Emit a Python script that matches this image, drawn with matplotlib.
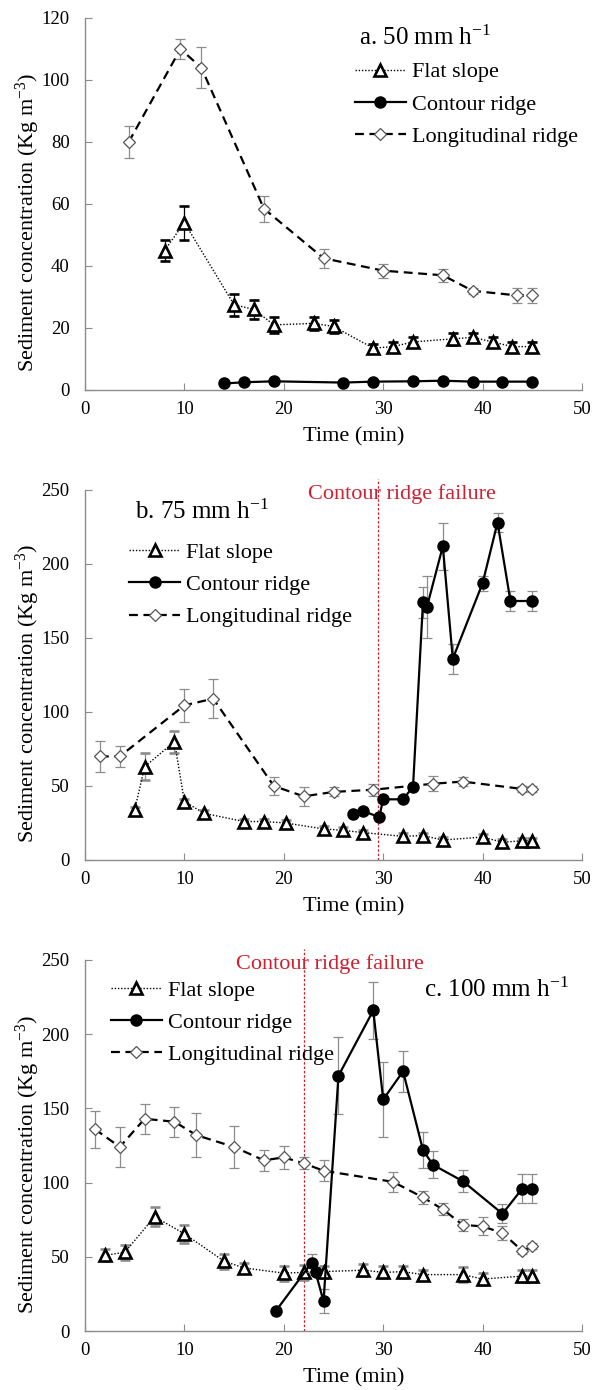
import matplotlib
matplotlib.use("Agg")
import matplotlib.pyplot as plt
from matplotlib.lines import Line2D

plt.rcParams['font.family'] = ['Liberation Serif', 'DejaVu Serif']
plt.rcParams['mathtext.fontset'] = 'custom'
plt.rcParams['mathtext.rm'] = 'Liberation Serif'
plt.rcParams['mathtext.it'] = 'Liberation Serif:italic'

# ---------------- data ----------------
# Panel a: 50 mm/h
a_flat_t = [8, 10, 15, 17, 19, 23, 25, 29, 31, 33, 37, 39, 41, 43, 45]
a_flat_v = [45, 54, 27.5, 26, 21, 21.5, 20.5, 13.5, 14, 15.5, 16.5, 17, 15.5, 14, 14]
a_flat_e = [3.5, 5.5, 3.5, 3, 2.5, 2, 2, 1.5, 1.5, 1.5, 2, 1.5, 1.5, 1.5, 1.5]
a_long_t = [4.4, 9.6, 11.7, 18, 24, 30, 36, 39, 43.5, 45]
a_long_v = [80, 110, 104, 58.5, 42.5, 38.5, 37, 32, 30.5, 30.5]
a_long_e = [5.2, 3.3, 6.7, 4.2, 3, 2.3, 2, 1, 2.5, 2.5]
a_cont_t = [14, 16, 19, 26, 29, 33, 36, 39, 42, 45]
a_cont_v = [2.1, 2.5, 2.8, 2.4, 2.7, 2.8, 3.0, 2.7, 2.7, 2.7]
a_cont_e = [0, 0, 0, 0, 0, 0, 0, 0, 0, 0]

# Panel b: 75 mm/h
b_flat_t = [5, 6, 9, 10, 12, 16, 18, 20.2, 24, 26, 28, 32, 34, 36, 40, 42, 44, 45]
b_flat_v = [34, 63, 80, 39.5, 31.5, 26, 26, 25, 21, 20, 18.5, 16, 16.5, 13.5, 15.5, 12, 13, 13]
b_flat_e = [2, 9, 7.5, 2, 2, 2, 2, 2, 2, 2, 2, 2, 2, 2, 2, 2, 2, 2]
b_long_t = [1.5, 3.5, 10, 12.9, 19, 22, 25, 29, 35, 38, 44, 45]
b_long_v = [70, 70, 104.5, 109, 50, 43, 46, 47.5, 51.5, 53, 48, 48]
b_long_e = [10.5, 7, 11, 13, 6, 6.5, 3, 4, 5, 3, 2, 2]
b_cont_t = [27, 28, 29.6, 30, 32, 33, 34, 34.4, 36, 37, 40, 41.5, 42.8, 45]
b_cont_v = [31, 33, 29, 41, 41, 49.5, 174, 171, 212, 136, 187, 228, 175, 175]
b_cont_e = [0, 0, 0, 0, 0, 0, 10.5, 21, 16, 10, 5, 6.5, 7, 6.5]
b_fail = 29.5

# Panel c: 100 mm/h
c_flat_t = [2, 4, 7, 10, 14, 16, 20, 22, 24, 28, 30, 32, 34, 38, 40, 44, 45]
c_flat_v = [51, 53, 77, 65.5, 47, 42.5, 39, 39.5, 40, 41, 39.5, 40, 38, 38, 35, 37, 37]
c_flat_e = [4, 5, 6.3, 6, 5, 3, 5, 5, 4, 4, 4, 4, 3, 5, 4, 4, 4]
c_long_t = [1, 3.5, 6, 9, 11.2, 15, 18, 20, 22, 24, 31, 34, 36, 38, 40, 42, 44, 45]
c_long_v = [136, 124, 143, 141, 132, 124, 115, 117, 113, 108, 100.5, 90, 82, 71.5, 70.5, 66, 54, 57]
c_long_e = [12.5, 13.8, 10, 10, 14.6, 14, 7, 8, 4, 7, 6.7, 4.5, 4, 4, 6, 5, 2, 2]
c_cont_t = [19.2, 22.8, 23.2, 24, 25.5, 29, 30, 32, 34, 35, 38, 42, 44, 45]
c_cont_v = [13.5, 46, 39.5, 20, 172, 216, 156, 175, 122, 112, 101, 79, 96, 96]
c_cont_e = [0, 6, 0, 8, 26, 19, 25, 14, 12.4, 9, 7.5, 6.4, 9.7, 9.7]
c_fail = 22

labels = ['Flat slope', 'Contour ridge', 'Longitudinal ridge']
titles = ['a. 50 mm h$^{\\mathregular{-1}}$', 'b. 75 mm h$^{\\mathregular{-1}}$',
          'c. 100 mm h$^{\\mathregular{-1}}$']

# ---------------- style ----------------
W, H = 602, 1390
fig = plt.figure(figsize=(W / 100, H / 100), dpi=100)
GRAY = '#8c8c8c'
RED = '#d02030'
FS = 16
TFS = 13.5

def px_axes(top, bottom, left=85, right=582):
    return [left / W, (H - bottom) / H, (right - left) / W, (bottom - top) / H]

flat_kw = dict(color='black', ls=(0, (1, 1.3)), lw=1.0, marker='^', ms=9,
               mfc='white', mec='black', mew=1.9)
cont_kw = dict(color='black', ls='-', lw=1.6, marker='o', ms=8,
               mfc='black', mec='black')
long_kw = dict(color='black', ls=(0, (4, 2.5)), lw=1.6, marker='D', ms=6.2,
               mfc='white', mec='#555555', mew=0.9)

def draw(ax, data, ylim, yticks, title, title_xy, leg_xy, fail=None, fail_xy=None,
         flat_ecolor=GRAY):
    (ft, fv, fe), (ct, cv, ce), (lt, lv, le) = data
    ax.errorbar(lt, lv, yerr=le, ecolor=GRAY, elinewidth=0.9, capsize=3.5,
                capthick=0.9, zorder=2, **long_kw)
    ax.errorbar(ft, fv, yerr=fe, ecolor=flat_ecolor, elinewidth=0.9, capsize=3.5,
                capthick=0.9, zorder=3, **flat_kw)
    ax.errorbar(ct, cv, yerr=ce, ecolor=GRAY, elinewidth=0.9, capsize=3.5,
                capthick=0.9, zorder=4, **cont_kw)
    ax.set_xlim(0, 50)
    ax.set_ylim(*ylim)
    ax.set_xticks(range(0, 51, 10))
    ax.set_yticks(yticks)
    for s in ['top', 'right']:
        ax.spines[s].set_visible(False)
    for s in ['left', 'bottom']:
        ax.spines[s].set_color(GRAY)
        ax.spines[s].set_linewidth(1.0)
    ax.tick_params(direction='in', length=5, color=GRAY, labelsize=TFS)
    ax.tick_params(axis='x', pad=8)
    ax.tick_params(axis='y', pad=11)
    ax.text(0.54, -0.127, 'Time (min)', transform=ax.transAxes, fontsize=FS,
            ha='center', va='center')
    ax.text(-0.115, 0.45, 'Sediment concentration (Kg m$^{\\mathregular{-3}}$)',
            transform=ax.transAxes, fontsize=FS, rotation=90,
            ha='center', va='center')
    ax.text(title_xy[0], title_xy[1], title, transform=ax.transAxes, fontsize=18,
            ha='left', va='center')
    if fail is not None:
        ax.plot([fail, fail], [ylim[0], ylim[1] * 1.03], color=RED, lw=0.9,
                ls=(0, (2, 1.5)), clip_on=False, zorder=1)
        ax.text(fail_xy[0], fail_xy[1], 'Contour ridge failure', color=RED,
                fontsize=FS, ha='center', va='center')
    handles = [Line2D([], [], **flat_kw), Line2D([], [], **cont_kw),
               Line2D([], [], **long_kw)]
    ax.legend(handles, labels, loc='upper left', bbox_to_anchor=leg_xy,
              frameon=False, fontsize=FS, handlelength=2.3, handletextpad=0.25,
              labelspacing=0.52, borderaxespad=0, borderpad=0)

ax1 = fig.add_axes(px_axes(18, 390))
draw(ax1, [(a_flat_t, a_flat_v, a_flat_e), (a_cont_t, a_cont_v, a_cont_e),
           (a_long_t, a_long_v, a_long_e)],
     (0, 120), range(0, 121, 20), titles[0], (0.551, 0.946), (0.543, 0.882),
     flat_ecolor='black')

ax2 = fig.add_axes(px_axes(490, 860))
draw(ax2, [(b_flat_t, b_flat_v, b_flat_e), (b_cont_t, b_cont_v, b_cont_e),
           (b_long_t, b_long_v, b_long_e)],
     (0, 250), range(0, 251, 50), titles[1], (0.10, 0.94), (0.089, 0.858),
     fail=b_fail, fail_xy=(31.9, 247))

ax3 = fig.add_axes(px_axes(960, 1331))
draw(ax3, [(c_flat_t, c_flat_v, c_flat_e), (c_cont_t, c_cont_v, c_cont_e),
           (c_long_t, c_long_v, c_long_e)],
     (0, 250), range(0, 251, 50), titles[2], (0.682, 0.919), (0.052, 0.946),
     fail=c_fail, fail_xy=(24.6, 247))

fig.savefig('out.png', dpi=100)
